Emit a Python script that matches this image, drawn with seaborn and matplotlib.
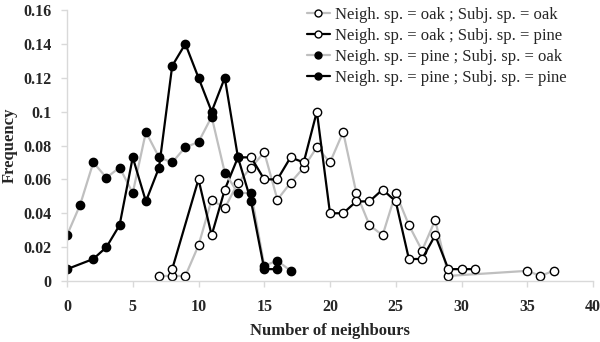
import matplotlib
matplotlib.use("Agg")
import matplotlib.pyplot as plt
import seaborn as sns
import pandas as pd

# Frequency of neighbour counts by neighbour species / subject species
oak_oak_x = [7, 8, 9, 10, 11, 12, 13, 14, 15, 16, 17, 18, 19, 20, 21, 22, 23, 24, 25, 26, 27, 28, 29, 35, 36, 37]
oak_oak_y = [0.003, 0.003, 0.003, 0.021, 0.048, 0.043, 0.058, 0.067, 0.076, 0.048, 0.058, 0.067, 0.079,
             0.070, 0.088, 0.052, 0.033, 0.027, 0.052, 0.033, 0.018, 0.036, 0.003, 0.006, 0.003, 0.006]

oak_pine_x = [8, 10, 11, 12, 13, 14, 15, 16, 17, 18, 19, 20, 21, 22, 23, 24, 25, 26, 27, 28, 29, 30, 31]
oak_pine_y = [0.007, 0.060, 0.027, 0.054, 0.073, 0.073, 0.060, 0.060, 0.073, 0.070, 0.100, 0.040,
              0.040, 0.047, 0.047, 0.054, 0.047, 0.013, 0.013, 0.027, 0.007, 0.007, 0.007]

pine_oak_x = [0, 1, 2, 3, 4, 5, 6, 7, 8, 9, 10, 11, 12, 13, 14, 15, 16, 17]
pine_oak_y = [0.027, 0.045, 0.070, 0.061, 0.067, 0.052, 0.088, 0.073, 0.070, 0.079, 0.082, 0.097,
              0.064, 0.052, 0.052, 0.009, 0.012, 0.006]

pine_pine_x = [0, 2, 3, 4, 5, 6, 7, 8, 9, 10, 11, 12, 13, 14, 15, 16]
pine_pine_y = [0.007, 0.013, 0.020, 0.033, 0.073, 0.047, 0.067, 0.127, 0.140, 0.120, 0.100, 0.120,
               0.073, 0.047, 0.007, 0.007]

labels = [
    "Neigh. sp. = oak ; Subj. sp. = oak",
    "Neigh. sp. = oak ; Subj. sp. = pine",
    "Neigh. sp. = pine ; Subj. sp. = oak",
    "Neigh. sp. = pine ; Subj. sp. = pine",
]
x_ticks = [0, 5, 10, 15, 20, 25, 30, 35, 40]
y_ticks = [0, 0.02, 0.04, 0.06, 0.08, 0.1, 0.12, 0.14, 0.16]
y_tick_labels = ["0", "0.02", "0.04", "0.06", "0.08", "0.1", "0.12", "0.14", "0.16"]

sns.set_style("white")
plt.rcParams["font.family"] = ["Liberation Serif", "DejaVu Serif"]

fig, ax = plt.subplots(figsize=(6.0, 3.42), dpi=100)
fig.subplots_adjust(left=67 / 600, right=593 / 600, top=1 - 10 / 342, bottom=1 - 281 / 342)

grey = "#bfbfbf"
series = [
    (oak_oak_x, oak_oak_y, grey, "white"),
    (oak_pine_x, oak_pine_y, "black", "white"),
    (pine_oak_x, pine_oak_y, grey, "black"),
    (pine_pine_x, pine_pine_y, "black", "black"),
]
for (xs, ys, lc, fc), lab in zip(series, labels):
    df = pd.DataFrame({"n": xs, "freq": ys})
    sns.lineplot(data=df, x="n", y="freq", ax=ax, color=lc, linewidth=1.6,
                 marker="o", markersize=6, markerfacecolor=fc, markeredgecolor="black",
                 markeredgewidth=1.0, label=lab, sort=False)

ax.set_xlim(0, 40)
ax.set_ylim(0, 0.16)
ax.set_xticks(x_ticks)
ax.set_xticklabels([str(t) for t in x_ticks])
ax.set_yticks(y_ticks)
ax.set_yticklabels(y_tick_labels)
for lbl in ax.get_xticklabels() + ax.get_yticklabels():
    lbl.set_fontweight("bold")
    lbl.set_fontsize(11.5)

for side in ["top", "right"]:
    ax.spines[side].set_visible(False)
for side in ["left", "bottom"]:
    ax.spines[side].set_color("#d9d9d9")
    ax.spines[side].set_linewidth(1.0)
ax.tick_params(axis="both", which="major", direction="out", length=4, width=1.0,
               color="#d9d9d9", bottom=True, left=True)
ax.tick_params(axis="x", pad=9)
ax.tick_params(axis="y", pad=7)

ax.set_xlabel("Number of neighbours", fontsize=12, fontweight="bold", labelpad=6)
ax.set_ylabel("Frequency", fontsize=12, fontweight="bold", labelpad=4)

leg = ax.legend(loc="upper left", bbox_to_anchor=(295 / 600, 1 + 5 / 342), bbox_transform=fig.transFigure,
                frameon=False, fontsize=12, handlelength=1.4, handletextpad=0.3,
                labelspacing=0.3, borderpad=0.2)
for h in leg.legend_handles:
    h.set_markersize(5)

fig.savefig("out.png", dpi=100)
